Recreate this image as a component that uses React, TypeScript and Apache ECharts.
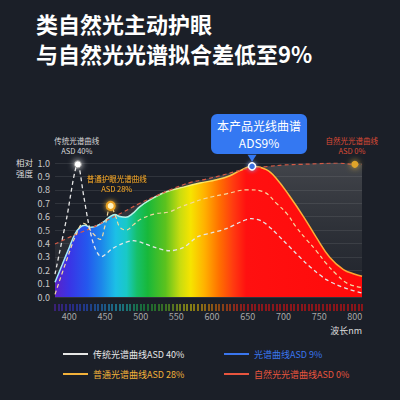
import { useEffect, useRef } from 'react';
import * as echarts from 'echarts';

// wavelength (nm) / relative intensity
const prodNm = [380, 390, 400, 408, 415, 422, 430, 438, 448, 457, 464, 471, 479, 488, 499, 513, 536, 560, 583, 606, 625, 640, 656, 676, 690, 709, 728, 746, 765, 784, 800, 810];
const prodVal = [0.11, 0.24, 0.37, 0.47, 0.52, 0.535, 0.52, 0.53, 0.56, 0.6, 0.615, 0.6, 0.595, 0.62, 0.675, 0.725, 0.785, 0.82, 0.85, 0.875, 0.905, 0.945, 0.975, 0.95, 0.885, 0.75, 0.6, 0.445, 0.295, 0.205, 0.17, 0.155];

const natNm = [380, 406, 429, 452, 476, 499, 520, 546, 570, 592, 615, 639, 660, 680, 700, 725, 750, 775, 800, 810];
const natVal = [0.395, 0.46, 0.51, 0.57, 0.635, 0.7, 0.75, 0.81, 0.855, 0.88, 0.91, 0.945, 0.965, 0.975, 0.985, 0.99, 0.995, 1.0, 0.99, 0.99];

const ordNm = [380, 396, 410, 420, 434, 443, 450, 458, 465, 471, 480, 490, 500, 520, 540, 555, 570, 590, 620, 650, 672, 690, 705, 718, 732, 746, 760, 774, 790, 810];
const ordVal = [0.02, 0.27, 0.47, 0.55, 0.47, 0.43, 0.53, 0.68, 0.6, 0.52, 0.5, 0.54, 0.58, 0.62, 0.635, 0.67, 0.7, 0.735, 0.77, 0.8, 0.785, 0.7, 0.62, 0.52, 0.43, 0.345, 0.25, 0.17, 0.1, 0.07];

const tradNm = [380, 396, 412, 420, 427, 435, 445, 460, 475, 490, 505, 520, 540, 560, 580, 600, 620, 640, 655, 670, 685, 700, 715, 730, 745, 760, 775, 790, 810];
const tradVal = [0.17, 0.58, 0.99, 0.76, 0.55, 0.38, 0.3, 0.36, 0.4, 0.42, 0.4, 0.37, 0.345, 0.37, 0.45, 0.48, 0.51, 0.56, 0.585, 0.565, 0.5, 0.42, 0.34, 0.26, 0.19, 0.13, 0.09, 0.06, 0.03];

const xLabels = [400, 450, 500, 550, 600, 650, 700, 750, 800];

// marked points
const prodPeak = [656, 0.975];
const natEnd = [800, 0.99];
const ordPeak = [458, 0.68];
const tradPeak = [412, 0.99];

const names = {
  trad: '传统光谱曲线ASD 40%',
  ord: '普通光谱曲线ASD 28%',
  prod: '光谱曲线ASD 9%',
  nat: '自然光光谱曲线ASD 0%',
};

const FONT = 'Noto Sans CJK SC';

const spectrum = [
  { offset: 0, color: '#5b22c8' },
  { offset: 0.047, color: '#3a34e6' },
  { offset: 0.105, color: '#2458ee' },
  { offset: 0.151, color: '#1d86ea' },
  { offset: 0.198, color: '#1cc0e6' },
  { offset: 0.233, color: '#19c9c6' },
  { offset: 0.267, color: '#16c06a' },
  { offset: 0.302, color: '#18b83a' },
  { offset: 0.36, color: '#5cc21e' },
  { offset: 0.407, color: '#c8dc10' },
  { offset: 0.442, color: '#f6e400' },
  { offset: 0.488, color: '#ffb000' },
  { offset: 0.535, color: '#ff7000' },
  { offset: 0.581, color: '#ff3a10' },
  { offset: 0.623, color: '#ff1010' },
  { offset: 1, color: '#ff0a0a' },
];

const zip = (xs: number[], ys: number[]) => xs.map((x, i) => [x, ys[i]]);

const App = () => {
  const chartRef = useRef<HTMLDivElement>(null);

  useEffect(() => {
    if (!chartRef.current) return;
    const chart = echarts.init(chartRef.current, null, { renderer: 'svg' });

    const dash = [4, 3];
    const smallLabel = (color: string) => ({
      show: true,
      position: 'top',
      distance: 5,
      fontSize: 7.5,
      lineHeight: 10,
      color,
      fontFamily: FONT,
      align: 'center',
    });

    const option = {
      animation: false,
      backgroundColor: '#1b1f28',
      textStyle: { fontFamily: FONT },
      title: {
        text: '类自然光主动护眼\n与自然光光谱拟合差低至9%',
        left: 36,
        top: 8,
        padding: 0,
        textStyle: { color: '#ffffff', fontSize: 22, lineHeight: 30, fontWeight: 'bold', fontFamily: FONT },
      },
      grid: { left: 55, right: 38, top: 163, bottom: 103 },
      xAxis: [
        {
          type: 'value',
          min: 380,
          max: 810,
          axisLine: { show: false },
          axisTick: { show: false },
          splitLine: { show: false },
          axisLabel: { customValues: xLabels, color: '#a8a8a8', fontSize: 9, margin: 15 },
        },
        {
          type: 'value',
          position: 'bottom',
          offset: 7,
          min: 380,
          max: 810,
          interval: 5,
          axisLine: { show: false },
          splitLine: { show: false },
          axisLabel: { show: false },
          axisTick: {
            show: true,
            length: 7,
            lineStyle: {
              width: 1.5,
              opacity: 0.65,
              color: new echarts.graphic.LinearGradient(55, 0, 362, 0, spectrum, true),
            },
          },
        },
      ],
      yAxis: {
        type: 'value',
        min: 0,
        max: 1,
        interval: 0.1,
        axisLine: { show: false },
        axisTick: { show: false },
        axisLabel: { color: '#c8c8c8', fontSize: 9, margin: 5, formatter: (v: number) => v.toFixed(1) },
        splitLine: { lineStyle: { color: 'rgba(255,255,255,0.12)', width: 0.8 } },
      },
      legend: [
        {
          orient: 'vertical',
          left: 58,
          top: 343,
          icon: 'rect',
          itemWidth: 25,
          itemHeight: 2,
          itemGap: 8,
          selectedMode: false,
          textStyle: { fontSize: 9, lineHeight: 12, fontFamily: FONT },
          data: [
            { name: names.trad, itemStyle: { color: '#e6e6e6' }, textStyle: { color: '#e6e6e6' } },
            { name: names.ord, itemStyle: { color: '#f2b13a' }, textStyle: { color: '#f2b13a' } },
          ],
        },
        {
          orient: 'vertical',
          left: 219,
          top: 343,
          icon: 'rect',
          itemWidth: 25,
          itemHeight: 2,
          itemGap: 8,
          selectedMode: false,
          textStyle: { fontSize: 9, lineHeight: 12, fontFamily: FONT },
          data: [
            { name: names.prod, itemStyle: { color: '#3a76ee' }, textStyle: { color: '#3a76ee' } },
            { name: names.nat, itemStyle: { color: '#e8553e' }, textStyle: { color: '#e8553e' } },
          ],
        },
      ],
      graphic: [
        {
          type: 'text',
          left: 16,
          top: 157,
          style: { text: '相对\n强度', fill: '#dddddd', fontSize: 8.5, lineHeight: 10.5, fontFamily: FONT },
        },
        {
          type: 'text',
          right: 38,
          top: 326,
          style: { text: '波长nm', fill: '#dddddd', fontSize: 9, fontFamily: FONT },
        },
      ],
      series: [
        {
          name: 'natArea',
          type: 'line',
          data: zip(natNm, natVal),
          smooth: 0.4,
          symbol: 'none',
          silent: true,
          z: 1,
          lineStyle: { width: 0 },
          areaStyle: {
            color: new echarts.graphic.LinearGradient(0, 0, 0, 1, [
              { offset: 0, color: 'rgba(150,150,150,0.45)' },
              { offset: 1, color: 'rgba(90,90,90,0.12)' },
            ]),
          },
        },
        {
          name: names.prod,
          type: 'line',
          data: zip(prodNm, prodVal),
          smooth: 0.4,
          symbol: 'none',
          z: 2,
          lineStyle: {
            width: 1.5,
            color: new echarts.graphic.LinearGradient(0, 0, 1, 0, [
              { offset: 0, color: '#9fe6ff' },
              { offset: 0.3, color: '#b8f5e0' },
              { offset: 0.45, color: '#fff06a' },
              { offset: 0.6, color: '#ffc040' },
              { offset: 1, color: '#ffa030' },
            ]),
          },
          areaStyle: { opacity: 1, color: new echarts.graphic.LinearGradient(0, 0, 1, 0, spectrum) },
          markPoint: {
            data: [
              {
                coord: prodPeak,
                symbol: 'triangle',
                symbolRotate: 180,
                symbolSize: [9, 7],
                symbolOffset: [0, -8],
                itemStyle: { color: '#3478f2' },
                label: { show: false },
              },
              {
                coord: prodPeak,
                symbol: 'circle',
                symbolSize: 7,
                itemStyle: { color: '#3a6fe0', borderColor: '#ffffff', borderWidth: 1.5, shadowBlur: 4, shadowColor: '#7fa8ff' },
                label: {
                  show: true,
                  position: 'top',
                  distance: 8,
                  offset: [7, 0],
                  formatter: '本产品光线曲谱\nADS9%',
                  backgroundColor: '#3478f2',
                  borderRadius: 6,
                  padding: [3, 6],
                  fontSize: 12,
                  lineHeight: 17,
                  color: '#ffffff',
                  align: 'center',
                  fontFamily: FONT,
                },
              },
            ],
          },
        },
        {
          name: names.nat,
          type: 'line',
          data: zip(natNm, natVal),
          smooth: 0.4,
          symbol: 'none',
          z: 3,
          lineStyle: { width: 1.2, color: '#d45a45', type: dash },
          markPoint: {
            data: [
              {
                coord: natEnd,
                symbol: 'circle',
                symbolSize: 7,
                itemStyle: { color: '#e0a52a', shadowBlur: 6, shadowColor: '#f0c040' },
                label: { ...smallLabel('#dc4b36'), formatter: '自然光光谱曲线\nASD 0%', offset: [-3, 0] },
              },
            ],
          },
        },
        {
          name: names.ord,
          type: 'line',
          data: zip(ordNm, ordVal),
          smooth: 0.4,
          symbol: 'none',
          z: 3,
          lineStyle: { width: 1.2, color: '#f3d9a0', type: dash },
          markPoint: {
            data: [
              {
                coord: ordPeak,
                symbol: 'circle',
                symbolSize: 8,
                itemStyle: { color: '#fff3c0', borderColor: '#e8a020', borderWidth: 2, shadowBlur: 5, shadowColor: '#f0b030' },
                label: {
                  ...smallLabel('#f0a428'),
                  formatter: '普通护眼光谱曲线\nASD 28%',
                  offset: [6, -2],
                  textShadowColor: 'rgba(0,0,0,0.6)',
                  textShadowBlur: 2,
                },
              },
            ],
          },
        },
        {
          name: names.trad,
          type: 'line',
          data: zip(tradNm, tradVal),
          smooth: 0.3,
          symbol: 'none',
          z: 3,
          lineStyle: { width: 1.3, color: '#e6e6e6', type: dash },
          markPoint: {
            data: [
              {
                coord: tradPeak,
                symbol: 'circle',
                symbolSize: 7,
                itemStyle: { color: '#ffffff', borderColor: '#9a9a9a', borderWidth: 1, shadowBlur: 6, shadowColor: '#ffffff' },
                label: { ...smallLabel('#d8d8d8'), formatter: '传统光谱曲线\nASD 40%', offset: [-1, 0] },
              },
            ],
          },
        },
      ],
    };

    chart.setOption(option as any);
    return () => {
      chart.dispose();
    };
  }, []);

  return <div ref={chartRef} style={{ position: 'absolute', left: 0, top: 0, width: 400, height: 400 }} />;
};

export default App;
